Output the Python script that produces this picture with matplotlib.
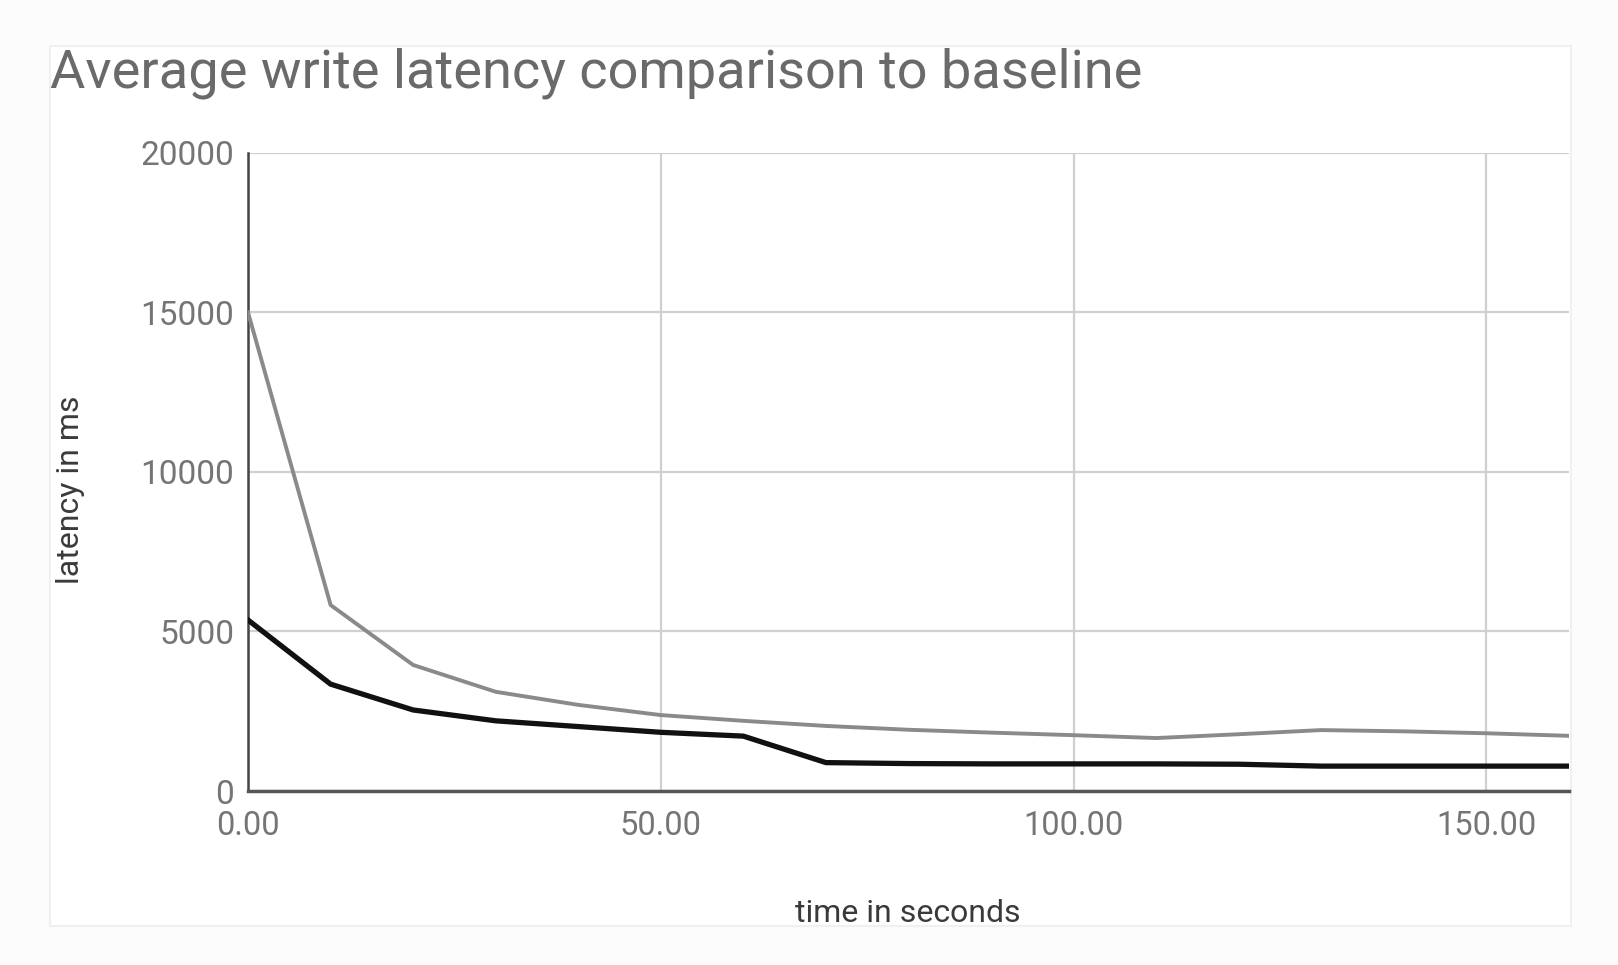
import matplotlib
matplotlib.use("Agg")
import matplotlib.pyplot as plt
from matplotlib.patches import Rectangle

plt.rcParams['font.family'] = ['Roboto', 'DejaVu Sans']

TIME_S = [0, 10, 20, 30, 40, 50, 60, 70, 80, 90, 100, 110, 120, 130, 140, 150, 160]
BASELINE_MS = [15000, 5830, 3950, 3110, 2700, 2380, 2200, 2040, 1920, 1830, 1750, 1660, 1780, 1910, 1870, 1810, 1730]
WRITE_MS = [5360, 3350, 2540, 2200, 2020, 1840, 1720, 890, 860, 850, 850, 850, 840, 780, 780, 780, 780]

X_TICKS = [0, 50, 100, 150]
Y_TICKS = [0, 5000, 10000, 15000, 20000]

TEXT_GREY = "#757575"

fig = plt.figure(figsize=(16.18, 9.65), dpi=100)
fig.patch.set_facecolor("#fcfcfc")
# white card behind the chart
fig.patches.append(Rectangle((0.031, 0.040), 0.940, 0.912, transform=fig.transFigure,
                             facecolor="white", edgecolor="#f0f0f0", linewidth=1.5, zorder=-5))

ax = fig.add_axes([0.1533, 0.1803, 0.8164, 0.6612])
ax.set_facecolor("white")

ax.plot(TIME_S, BASELINE_MS, color="#8a8a8a", linewidth=2.8, zorder=3)
ax.plot(TIME_S, WRITE_MS, color="#111111", linewidth=3.8, zorder=4)

ax.set_xlim(0, 160)
ax.set_ylim(0, 20000)
ax.set_xticks(X_TICKS)
ax.set_xticklabels([f"{t:.2f}" for t in X_TICKS])
ax.set_yticks(Y_TICKS)
ax.set_yticklabels([str(v) for v in Y_TICKS])

ax.grid(True, color="#d0d0d0", linewidth=1.6)
ax.set_axisbelow(True)
for side in ["top", "right"]:
    ax.spines[side].set_visible(False)
ax.spines["left"].set_color("#444444")
ax.spines["left"].set_linewidth(1.8)
ax.spines["bottom"].set_color("#555555")
ax.spines["bottom"].set_linewidth(2.5)
ax.tick_params(axis="y", length=0, labelsize=24, labelcolor=TEXT_GREY, pad=10)
ax.tick_params(axis="x", length=0, labelsize=23.5, labelcolor=TEXT_GREY, pad=14)

fig.text(0.031, 0.909, "Average write latency comparison to baseline",
         fontsize=39, color="#6a6a6a", ha="left", va="baseline")
fig.text(0.0433, 0.492, "latency in ms", rotation=90, fontsize=23, color="#3a3a3a",
         ha="center", va="center")
fig.text(0.561, 0.053, "time in seconds", fontsize=23, color="#3a3a3a",
         ha="center", va="center")

fig.savefig("out.png", dpi=100, facecolor=fig.get_facecolor())
